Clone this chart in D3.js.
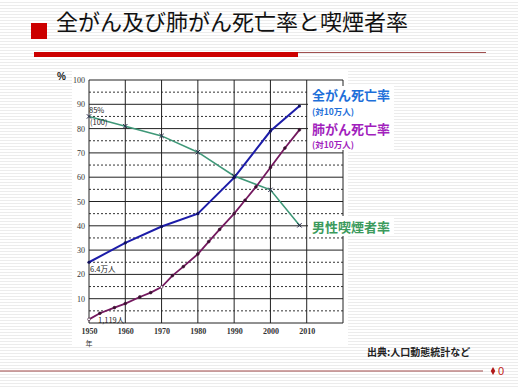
<!DOCTYPE html>
<html>
<head>
<meta charset="utf-8">
<script src="https://cdn.jsdelivr.net/npm/d3@7"></script>
<style>
  html, body { margin: 0; padding: 0; }
  body {
    width: 518px; height: 389px; overflow: hidden;
    background: repeating-linear-gradient(to bottom, #ffffff 0px, #ffffff 2px, #ececec 2px, #ececec 3px);
  }
  svg { display: block; }
</style>
</head>
<body>
<div id="chart"></div>
<script>
// chart data
const years = [1950, 1960, 1970, 1980, 1990, 2000, 2010];
const yTicks = [10, 20, 30, 40, 50, 60, 70, 80, 90, 100];
const gridTicks = [0, 10, 20, 30, 40, 50, 60, 70, 80, 90, 100];

const allCancer = [
  { year: 1950, value: 25 }, { year: 1960, value: 33 }, { year: 1970, value: 39.7 },
  { year: 1980, value: 45 }, { year: 1990, value: 59.8 }, { year: 2000, value: 79 },
  { year: 2008, value: 89.3 }
];
const lungCancer = [
  { year: 1950, value: 1.5 }, { year: 1953, value: 4 }, { year: 1957, value: 6.3 },
  { year: 1960, value: 8 }, { year: 1964, value: 10.7 }, { year: 1967, value: 12.5 },
  { year: 1970, value: 14.8 }, { year: 1973, value: 19.5 }, { year: 1976, value: 23.2 },
  { year: 1980, value: 28.4 }, { year: 1983, value: 33.5 }, { year: 1986, value: 38.5 },
  { year: 1990, value: 45 }, { year: 1993, value: 50.5 }, { year: 1996, value: 56 },
  { year: 2000, value: 64 }, { year: 2004, value: 72 }, { year: 2008, value: 79.5 }
];
const smoking = [
  { year: 1950, value: 85 }, { year: 1960, value: 81 }, { year: 1970, value: 77 },
  { year: 1980, value: 70.3 }, { year: 1990, value: 60.5 }, { year: 2000, value: 54.8 },
  { year: 2008, value: 40.2 }
];

const svg = d3.select('#chart').append('svg')
  .attr('width', 518)
  .attr('height', 389);

// title
svg.append('rect').attr('x', 31).attr('y', 23).attr('width', 16).attr('height', 16).attr('fill', '#cc0000');
svg.append('text')
  .attr('x', 56).attr('y', 30)
  .style('font-family', '"Noto Sans CJK JP", sans-serif')
  .style('font-size', '22px')
  .style('fill', '#111')
  .text('全がん及び肺がん死亡率と喫煙者率');
svg.append('rect').attr('x', 34).attr('y', 52).attr('width', 264).attr('height', 5).attr('fill', '#cc0000');
svg.append('line').attr('x1', 298).attr('x2', 486).attr('y1', 52.5).attr('y2', 52.5)
  .attr('stroke', '#a05050').attr('stroke-width', 1);

// chart image area
svg.append('rect').attr('x', 72).attr('y', 70).attr('width', 276).attr('height', 276).attr('fill', '#fff');

const x = d3.scaleLinear().domain([1950, 2020]).range([89, 343]);
const y = d3.scaleLinear().domain([0, 100]).range([323, 80]);

const g = svg.append('g');

// grid
g.selectAll('.hminor').data(d3.range(5, 100, 10)).enter().append('line')
  .attr('x1', x(1950)).attr('x2', x(2020))
  .attr('y1', d => y(d)).attr('y2', d => y(d))
  .attr('stroke', '#333').attr('stroke-width', 1).attr('stroke-dasharray', '2,2');
g.selectAll('.hmajor').data(gridTicks).enter().append('line')
  .attr('x1', x(1950)).attr('x2', x(2020))
  .attr('y1', d => y(d)).attr('y2', d => y(d))
  .attr('stroke', '#222').attr('stroke-width', 1);
g.selectAll('.vmajor').data(d3.range(1950, 2021, 10)).enter().append('line')
  .attr('x1', d => x(d)).attr('x2', d => x(d))
  .attr('y1', y(0)).attr('y2', y(100))
  .attr('stroke', '#222').attr('stroke-width', 1);

// axes labels
const yAxis = d3.axisLeft(y).tickValues(yTicks).tickSize(0).tickPadding(4);
const yG = svg.append('g').attr('transform', `translate(${x(1950)},0)`).call(yAxis);
const xAxis = d3.axisBottom(x).tickValues(years).tickSize(0).tickPadding(5).tickFormat(d3.format('d'));
const xG = svg.append('g').attr('transform', `translate(0,${y(0)})`).call(xAxis);
[yG, xG].forEach(a => {
  a.select('.domain').remove();
  a.selectAll('text')
    .style('font-family', '"Liberation Serif", serif')
    .style('font-size', '8px')
    .style('fill', '#333');
});
xG.selectAll('text').style('font-weight', 'bold');

svg.append('text').attr('x', 57).attr('y', 80)
  .style('font-family', '"Liberation Sans", sans-serif').style('font-size', '10px')
  .style('font-weight', 'bold').style('fill', '#222').text('%');
svg.append('text').attr('x', 89).attr('y', 346).attr('text-anchor', 'middle')
  .style('font-family', '"Noto Sans CJK JP", serif').style('font-size', '7px')
  .style('fill', '#333').text('年');

// lines
const line = d3.line().x(d => x(d.year)).y(d => y(d.value));

function drawSeries(data, color, width) {
  g.append('path').datum(data)
    .attr('fill', 'none').attr('stroke', color).attr('stroke-width', width)
    .attr('d', line);
}

drawSeries(smoking, '#3f9878', 1.6);
drawSeries(lungCancer, '#74195f', 1.8);
drawSeries(allCancer, '#1c1ca8', 2);

g.selectAll('.smk').data(smoking).enter().append('path')
  .attr('transform', d => `translate(${x(d.year)},${y(d.value)})`)
  .attr('d', d3.symbol().type(d3.symbolTimes).size(14))
  .attr('fill', 'none').attr('stroke', '#224')
  .attr('stroke-width', 1);
g.selectAll('.lung').data(lungCancer).enter().append('circle')
  .attr('cx', d => x(d.year)).attr('cy', d => y(d.value)).attr('r', 1.4)
  .attr('fill', d => (d.year === 1950 || d.year === 1970) ? '#fff' : '#3a1030')
  .attr('stroke', '#3a1030').attr('stroke-width', 0.6);
g.selectAll('.all').data(allCancer).enter().append('circle')
  .attr('cx', d => x(d.year)).attr('cy', d => y(d.value)).attr('r', 1.6)
  .attr('fill', '#10105a');

// annotations on chart
const note = (tx, ty, t) => svg.append('text').attr('x', tx).attr('y', ty)
  .style('font-family', '"Noto Sans CJK JP", serif').style('font-size', '7.5px')
  .style('fill', '#222').text(t);
note(89, 113, '85%');
note(90, 125, '(100)');
note(90, 272, '6.4万人');
note(98, 323, '1,119人');

// legend labels
svg.append('rect').attr('x', 308).attr('y', 86).attr('width', 86).attr('height', 64).attr('fill', '#fff');
svg.append('rect').attr('x', 308).attr('y', 216).attr('width', 86).attr('height', 20).attr('fill', '#fff');

const label = (ty, t, color, size) => svg.append('text').attr('x', 312).attr('y', ty)
  .style('font-family', '"Noto Sans CJK JP", sans-serif').style('font-size', size + 'px')
  .style('font-weight', 'bold').style('fill', color).text(t);
label(100, '全がん死亡率', '#1e6fd9', 13);
label(115, '(対10万人)', '#1e6fd9', 8.5);
label(134, '肺がん死亡率', '#a21fbd', 13);
label(148, '(対10万人)', '#a21fbd', 8.5);
label(232, '男性喫煙者率', '#3b9a5c', 13);

// footer
svg.append('text').attr('x', 367).attr('y', 356)
  .style('font-family', '"Noto Sans CJK JP", sans-serif').style('font-size', '10px')
  .style('font-weight', 'bold').style('fill', '#222').text('出典:人口動態統計など');
svg.append('line').attr('x1', 0).attr('x2', 483).attr('y1', 371).attr('y2', 371)
  .attr('stroke', '#a04848').attr('stroke-width', 1);
svg.append('path').attr('transform', 'translate(493,371)')
  .attr('d', d3.symbol().type(d3.symbolDiamond).size(18)).attr('fill', '#b01818');
svg.append('text').attr('x', 498).attr('y', 375)
  .style('font-family', '"Liberation Sans", sans-serif').style('font-size', '11px')
  .style('fill', '#c01818').text('0');
</script>
</body>
</html>
